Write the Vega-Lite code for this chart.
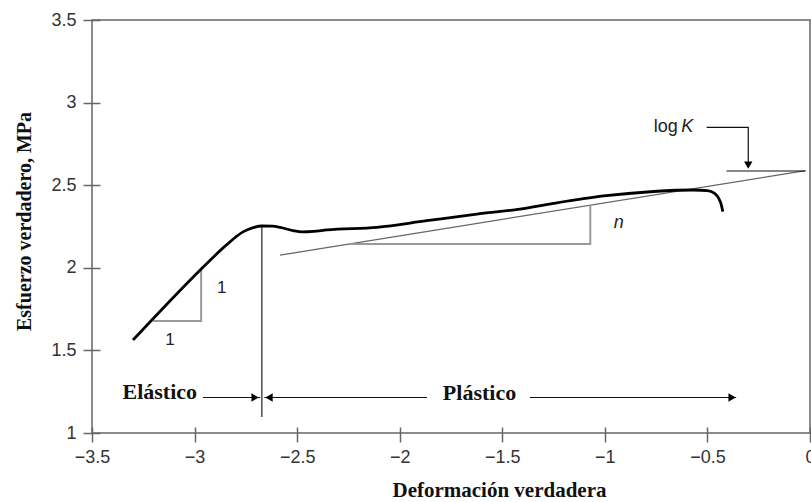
{
  "$schema": "https://vega.github.io/schema/vega-lite/v6.json",
  "width": 718,
  "height": 413,
  "autosize": "none",
  "padding": {"left": 92, "top": 20, "right": 1, "bottom": 69},
  "background": "white",
  "config": {
    "view": {"stroke": "#666", "strokeWidth": 1.5},
    "axis": {"domain": false, "grid": false, "labelFlush": false, "labelOverlap": false, "labelBound": false, "tickColor": "#666", "tickWidth": 1.5, "labelFont": "Liberation Sans", "labelFontSize": 18, "labelColor": "#333", "titleFont": "Liberation Serif", "titleFontSize": 20, "titleFontWeight": "bold", "titleColor": "#111"}
  },
  "datasets": {
    "curve": [
      {"x": -3.30, "y": 1.563}, {"x": -2.97, "y": 1.99}, {"x": -2.90, "y": 2.075}, {"x": -2.843, "y": 2.14},
      {"x": -2.762, "y": 2.219}, {"x": -2.71, "y": 2.245}, {"x": -2.672, "y": 2.253}, {"x": -2.62, "y": 2.252},
      {"x": -2.583, "y": 2.245}, {"x": -2.52, "y": 2.225}, {"x": -2.477, "y": 2.217}, {"x": -2.42, "y": 2.220},
      {"x": -2.355, "y": 2.229}, {"x": -2.111, "y": 2.245}, {"x": -1.868, "y": 2.285}, {"x": -1.624, "y": 2.325},
      {"x": -1.414, "y": 2.355}, {"x": -1.25, "y": 2.39}, {"x": -1.006, "y": 2.435}, {"x": -0.762, "y": 2.462},
      {"x": -0.567, "y": 2.471}, {"x": -0.50, "y": 2.467}, {"x": -0.465, "y": 2.450}, {"x": -0.445, "y": 2.420},
      {"x": -0.432, "y": 2.38}, {"x": -0.425, "y": 2.340}
    ],
    "fit": [{"x": -2.583, "y": 2.077}, {"x": -0.022, "y": 2.588}],
    "tri": [
      {"g": "e", "i": 0, "x": -3.202, "y": 1.678}, {"g": "e", "i": 1, "x": -2.968, "y": 1.678}, {"g": "e", "i": 2, "x": -2.968, "y": 1.99},
      {"g": "n", "i": 0, "x": -2.247, "y": 2.144}, {"g": "n", "i": 1, "x": -1.071, "y": 2.144}, {"g": "n", "i": 2, "x": -1.071, "y": 2.378}
    ],
    "peak": [{"x": -2.672, "y": 1.097, "y2": 2.253}],
    "arrows": [
      {"g": "e", "i": 0, "x": -2.959, "y": 1.215}, {"g": "e", "i": 1, "x": -2.68, "y": 1.215},
      {"g": "p1", "i": 0, "x": -2.66, "y": 1.215}, {"g": "p1", "i": 1, "x": -1.867, "y": 1.215},
      {"g": "p2", "i": 0, "x": -1.365, "y": 1.215}, {"g": "p2", "i": 1, "x": -0.36, "y": 1.215},
      {"g": "lk", "i": 0, "x": -0.504, "y": 2.85}, {"g": "lk", "i": 1, "x": -0.301, "y": 2.85}, {"g": "lk", "i": 2, "x": -0.301, "y": 2.63},
      {"g": "kh", "i": 0, "x": -0.407, "y": 2.586}, {"g": "kh", "i": 1, "x": -0.022, "y": 2.586}
    ],
    "heads": [
      {"x": -2.705, "y": 1.215, "dir": "right"}, {"x": -2.637, "y": 1.215, "dir": "left"},
      {"x": -0.38, "y": 1.215, "dir": "right"}, {"x": -0.301, "y": 2.622, "dir": "down"}
    ],
    "labels": [
      {"x": -3.12, "y": 1.56, "t": "1", "k": "num"}, {"x": -2.867, "y": 1.876, "t": "1", "k": "num"},
      {"x": -0.957, "y": 2.27, "t": "n", "k": "ital"}, {"x": -0.628, "y": 2.852, "t": "K", "k": "ital"},
      {"x": -0.645, "y": 2.852, "t": "log", "k": "logr"},
      {"x": -2.988, "y": 1.248, "t": "Elástico", "k": "boldr"}, {"x": -1.611, "y": 1.245, "t": "Plástico", "k": "boldc"}
    ]
  },
  "encoding": {
    "x": {"field": "x", "type": "quantitative", "scale": {"domain": [-3.5, 0], "nice": false, "zero": false},
      "axis": {"values": [-3.5, -3, -2.5, -2, -1.5, -1, -0.5, 0], "format": ".1~f", "offset": -6, "tickSize": 15, "labelPadding": 6,
        "title": "Deformación verdadera", "titleX": 407, "titleY": 69, "titleBaseline": "alphabetic", "titleAlign": "center", "titleFontSize": 21}},
    "y": {"field": "y", "type": "quantitative", "scale": {"domain": [1, 3.5], "nice": false, "zero": false},
      "axis": {"values": [1, 1.5, 2, 2.5, 3, 3.5], "format": ".1~f", "offset": -8, "tickSize": 17, "labelPadding": 7,
        "title": "Esfuerzo verdadero, MPa", "titleX": -70, "titleY": 201, "titleBaseline": "alphabetic", "titleAlign": "center", "titleAngle": -90}}
  },
  "layer": [
    {"data": {"name": "fit"}, "mark": {"type": "line", "color": "#666", "strokeWidth": 1.3}},
    {"data": {"name": "tri"}, "mark": {"type": "line", "color": "#999", "strokeWidth": 2}, "encoding": {"detail": {"field": "g"}, "order": {"field": "i"}}},
    {"data": {"name": "peak"}, "mark": {"type": "rule", "color": "#333", "strokeWidth": 1.3}, "encoding": {"y2": {"field": "y2"}}},
    {"data": {"name": "arrows"}, "mark": {"type": "line", "color": "#111", "strokeWidth": 1.2}, "encoding": {"detail": {"field": "g"}, "order": {"field": "i"}}},
    {"data": {"name": "heads"}, "transform": [{"filter": "datum.dir === 'right'"}], "mark": {"type": "point", "shape": "triangle-right", "filled": true, "color": "#000", "size": 70, "opacity": 1}},
    {"data": {"name": "heads"}, "transform": [{"filter": "datum.dir === 'left'"}], "mark": {"type": "point", "shape": "triangle-left", "filled": true, "color": "#000", "size": 70, "opacity": 1}},
    {"data": {"name": "heads"}, "transform": [{"filter": "datum.dir === 'down'"}], "mark": {"type": "point", "shape": "triangle-down", "filled": true, "color": "#000", "size": 70, "opacity": 1}},
    {"data": {"name": "curve"}, "mark": {"type": "line", "color": "#000", "strokeWidth": 2.8, "interpolate": "monotone"}},
    {"data": {"name": "labels"}, "transform": [{"filter": "datum.k === 'num'"}], "mark": {"type": "text", "font": "Liberation Sans", "fontSize": 17, "color": "#222"}, "encoding": {"text": {"field": "t"}}},
    {"data": {"name": "labels"}, "transform": [{"filter": "datum.k === 'ital'"}], "mark": {"type": "text", "font": "Liberation Sans", "fontSize": 18, "fontStyle": "italic", "align": "left", "color": "#222"}, "encoding": {"text": {"field": "t"}}},
    {"data": {"name": "labels"}, "transform": [{"filter": "datum.k === 'logr'"}], "mark": {"type": "text", "font": "Liberation Sans", "fontSize": 18, "align": "right", "color": "#222"}, "encoding": {"text": {"field": "t"}}},
    {"data": {"name": "labels"}, "transform": [{"filter": "datum.k === 'boldr'"}], "mark": {"type": "text", "font": "Liberation Serif", "fontSize": 22, "fontWeight": "bold", "align": "right", "color": "#111"}, "encoding": {"text": {"field": "t"}}},
    {"data": {"name": "labels"}, "transform": [{"filter": "datum.k === 'boldc'"}], "mark": {"type": "text", "font": "Liberation Serif", "fontSize": 22, "fontWeight": "bold", "align": "center", "color": "#111"}, "encoding": {"text": {"field": "t"}}}
  ]
}
